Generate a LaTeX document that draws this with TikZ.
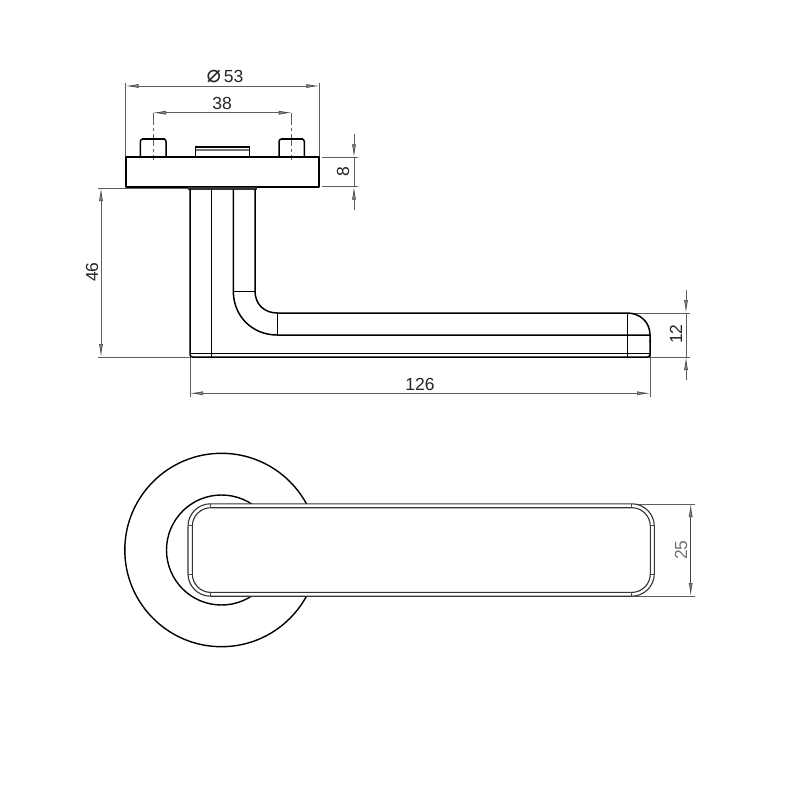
\documentclass[tikz,border=0pt]{standalone}
\usepackage{fontspec}
\setmainfont{Liberation Sans}
\newfontfamily\symfont{DejaVu Sans}
\usetikzlibrary{arrows.meta}
\definecolor{dimgray}{HTML}{5E5E5E}
\definecolor{dimtext}{HTML}{262626}
\tikzset{
  dimtip/.tip={Latex[length=13pt,width=4pt,fill=dimgray!75,color=dimgray!80!black]},
  obj/.style={draw=black,line width=1.5pt,line join=round},
  heavy/.style={draw=black,line width=2pt,line join=round},
  rim/.style={draw=black!80,line width=1.1pt},
  extline/.style={draw=dimgray,line width=0.7pt},
  centre/.style={draw=dimgray,line width=0.8pt,dash pattern=on 12pt off 3pt on 3pt off 3pt},
  dimline/.style={draw=dimgray,line width=0.7pt},
  dimboth/.style={dimline,dimtip-dimtip},
  dimone/.style={dimline,-dimtip},
  dimlabel/.style={text=dimtext,font=\fontsize{17.5}{18}\selectfont,inner sep=0pt},
  tick/.style={draw=black!70,line width=0.9pt},
}
\begin{document}
\begin{tikzpicture}[x=1pt,y=-1pt]
\useasboundingbox (0,0) rectangle (800,800);
\fill[white] (0,0) rectangle (800,800);

% ---------- dimension lines, side view
\coordinate (plateTL) at (125.7,157.3);
\coordinate (plateTR) at (319.3,157.3);
\coordinate (plateBR) at (319.3,186.7);
\coordinate (d53L) at (125.7,86);
\coordinate (d53R) at (319.3,86);
\coordinate (d38L) at (153,112.7);
\coordinate (d38R) at (291.7,112.7);
\draw[extline] (125.7,83) -- (plateTL);
\draw[extline] (319.3,83) -- (plateTR);
\draw[dimboth] (d53L) -- (d53R);
\draw[dimboth] (d38L) -- (d38R);
\draw[centre] (153,113) -- (153,160);
\draw[centre] (291.7,113) -- (291.7,160);
\node[dimlabel] (t53) at (225,76.5) {{\symfont\fontsize{24}{24}\selectfont ⌀}\,53};
\node[dimlabel] (t38) at (222,103) {38};

% 8
\draw[extline] (322,157.3) -- (358,157.3);
\draw[extline] (322,186.7) -- (358,186.7);
\draw[dimone] (354,134) -- (354,157.3);
\draw[dimone] (354,210) -- (354,186.7);
\draw[dimline] (354,157.3) -- (354,186.7);
\node[dimlabel,rotate=90] (t8) at (343,172) {8};

% 46
\draw[extline] (98,188) -- (188,188);
\draw[extline] (98,357) -- (190,357);
\draw[dimboth] (101,188) -- (101,357);
\node[dimlabel,rotate=90] (t46) at (92,272) {46};

% 126
\draw[extline] (190,357) -- (190,397);
\draw[extline] (650,345) -- (650,397);
\draw[dimboth] (190,393.3) -- (650,393.3);
\node[dimlabel] (t126) at (420,384) {126};

% 12
\draw[extline] (627,313) -- (690,313);
\draw[extline] (648,357) -- (690,357);
\draw[dimone] (686,290) -- (686,313);
\draw[dimone] (686,380) -- (686,357);
\draw[dimline] (686,313) -- (686,357);
\node[dimlabel,rotate=90] (t12) at (676,334) {12};

% ---------- side view: rose plate
\draw[heavy] (plateTL) rectangle (plateBR);
% pins
\draw[obj,rounded corners=2.5pt] (140.3,157.3) -- (140.3,139) -- (166,139) -- (166,157.3);
\draw[obj,rounded corners=2.5pt] (279,157.3) -- (279,139) -- (304.3,139) -- (304.3,157.3);
\draw[heavy] (142,139) -- (164.5,139);
\draw[heavy] (280.5,139) -- (302.8,139);
% slot
\draw[obj] (195.3,157.3) -- (195.3,147.5) -- (249.7,147.5) -- (249.7,157.3);
\draw[draw=black,line width=2pt] (195.3,147.4) -- (249.7,147.4);
\draw[draw=black!55,line width=1.2pt] (196,150) -- (249,150);
% neck
\fill[black!80] (187.7,187) rectangle (256.7,189.8);

% ---------- side view: lever
\draw[obj,rounded corners=2.5pt] (190,189) -- (190,357) -- (650,357) -- (650,340);
\draw[obj] (650,342) -- (650,335) .. controls (650,322) and (640,313) .. (627,313) -- (277.3,313)
  .. controls (264,313) and (255,304) .. (255,291) -- (255,189);
\draw[obj] (233.3,189) -- (233.3,291) .. controls (233.3,316) and (252,335) .. (277.3,335) -- (650,335);
\draw[obj] (211.3,189) -- (211.3,357);
\draw[obj] (233.3,291.3) -- (255,291.3);
\draw[obj] (277.3,313) -- (277.3,335);
\draw[obj] (190,353.6) -- (650,353.6);
\draw[obj] (627.3,313) -- (627.3,357);

% ---------- top view dimension
\draw[extline] (632,504) -- (695,504);
\draw[extline] (632,596) -- (695,596);
\draw[dimboth,draw=black!75] (690.7,504) -- (690.7,596);
\node[dimlabel,rotate=90,text=black!55] (t25) at (681,550) {25};

% ---------- top view: rose
\draw[draw=black,line width=1.4pt] (221.5,550) circle[radius=96.7];
\draw[draw=black,line width=1.4pt] (221.5,550) circle[radius=55];
% ---------- top view: handle
\draw[rim,fill=white,rounded corners=22.5pt] (188,503.8) rectangle (654.3,596.2);
\draw[rim,rounded corners=18.5pt] (192.3,507.7) rectangle (650.3,592.4);
\draw[tick] (210.7,503.8) -- (210.7,507.7);
\draw[tick] (210.7,596.2) -- (210.7,592.4);
\draw[tick] (631.7,503.8) -- (631.7,507.7);
\draw[tick] (631.7,596.2) -- (631.7,592.4);
\draw[tick] (188,525.5) -- (192.3,525.5);
\draw[tick] (188,574.5) -- (192.3,574.5);
\draw[tick] (654.3,525.5) -- (650.3,525.5);
\draw[tick] (654.3,574.5) -- (650.3,574.5);
\end{tikzpicture}
\end{document}
